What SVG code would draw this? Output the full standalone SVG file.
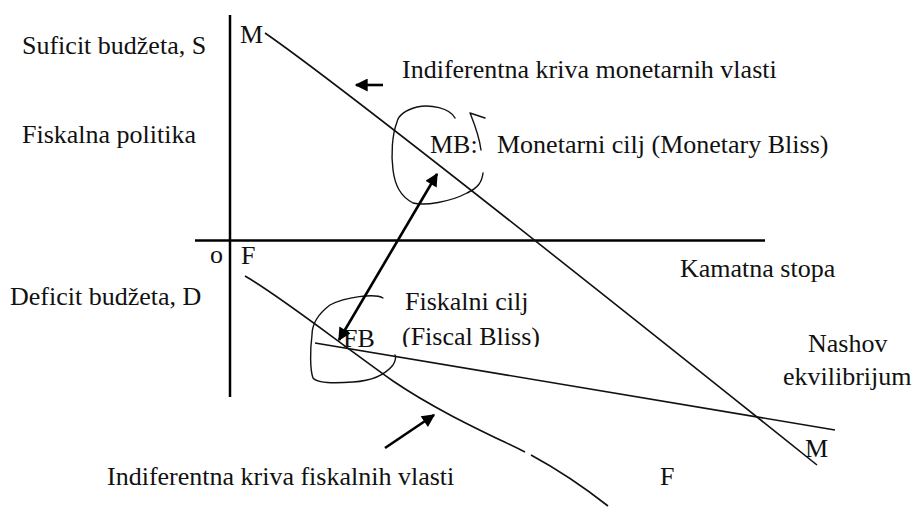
<svg xmlns="http://www.w3.org/2000/svg" width="917" height="513" viewBox="0 0 917 513">
<style>
text{font-family:"Liberation Serif","Times New Roman",serif;font-size:26px;fill:#111}
.ax{stroke:#000;stroke-width:2.5;fill:none}
.cv{stroke:#111;stroke-width:1.6;fill:none}
.hd{stroke:#111;stroke-width:1.4;fill:none;stroke-linecap:round;stroke-linejoin:round}
.ar{stroke:#000;stroke-width:2.6;fill:none}
</style>
<defs>
<marker id="ah" viewBox="0 0 10 10" refX="9" refY="5" markerWidth="6" markerHeight="5" orient="auto-start-reverse" markerUnits="strokeWidth">
<path d="M0,0 L10,5 L0,10 z" fill="#000"/>
</marker>
<clipPath id="cut"><rect x="390" y="320" width="200" height="27"/></clipPath>
</defs>
<rect width="917" height="513" fill="#fff"/>
<g id="axes">
<line class="ax" x1="230" y1="15" x2="230" y2="397"/>
<line class="ax" x1="195" y1="240.5" x2="765" y2="240.5"/>
</g>
<g id="labels-axes">
<text x="22" y="54">Suficit budžeta, S</text>
<text x="22" y="143">Fiskalna politika</text>
<text x="10" y="305">Deficit budžeta, D</text>
<text x="210" y="263">o</text>
<text x="680" y="277">Kamatna stopa</text>
</g>
<g id="curve-M">
<path class="cv" d="M265,33 Q352,93 817,465"/>
<text x="240" y="43">M</text>
<text x="805" y="457">M</text>
</g>
<g id="curve-F">
<path class="cv" d="M245,276 C280,296 330,336 393,381 C440,413 495,437 525,452"/>
<path class="cv" d="M531,455 C555,468 580,484 608,506"/>
<text x="241" y="264">F</text>
<text x="660" y="485">F</text>
</g>
<g id="nash-line">
<line class="cv" x1="315" y1="343" x2="835" y2="430"/>
<text x="808" y="352">Nashov</text>
<text x="783" y="385">ekvilibrijum</text>
</g>
<g id="MB">
<path class="hd" d="M455,118 C450,108 430,104 417,107 C405,110 398,116 397,122 C392,135 391,155 393,170 C395,185 400,196 413,203 C425,206 450,202 467,193 C478,188 482,182 483,173"/>
<path class="hd" d="M481,150 C479,135 474,123 470,113 L485,118"/>
<text x="430" y="153">MB:</text>
<text x="497" y="153">Monetarni cilj (Monetary Bliss)</text>
</g>
<g id="FB">
<path class="hd" d="M383,298 C375,293 345,297 330,305 C318,314 312,325 312,335 C310,350 310,370 313,378 C318,384 340,383 353,382 C370,381 385,375 393,365 C396,360 396,357 395,355"/>
<text x="343" y="347">FB</text>
<text x="405" y="310">Fiskalni cilj</text>
<text x="402" y="345" clip-path="url(#cut)">(Fiscal Bliss)</text>
</g>
<g id="connectors">
<line class="ar" x1="339" y1="340" x2="437" y2="174" marker-start="url(#ah)" marker-end="url(#ah)"/>
<line class="ar" x1="383" y1="85" x2="356" y2="85" marker-end="url(#ah)"/>
<line class="ar" x1="385" y1="448" x2="434" y2="415" marker-end="url(#ah)"/>
</g>
<g id="annotations">
<text x="402" y="78">Indiferentna kriva monetarnih vlasti</text>
<text x="107" y="485">Indiferentna kriva fiskalnih vlasti</text>
</g>
</svg>
